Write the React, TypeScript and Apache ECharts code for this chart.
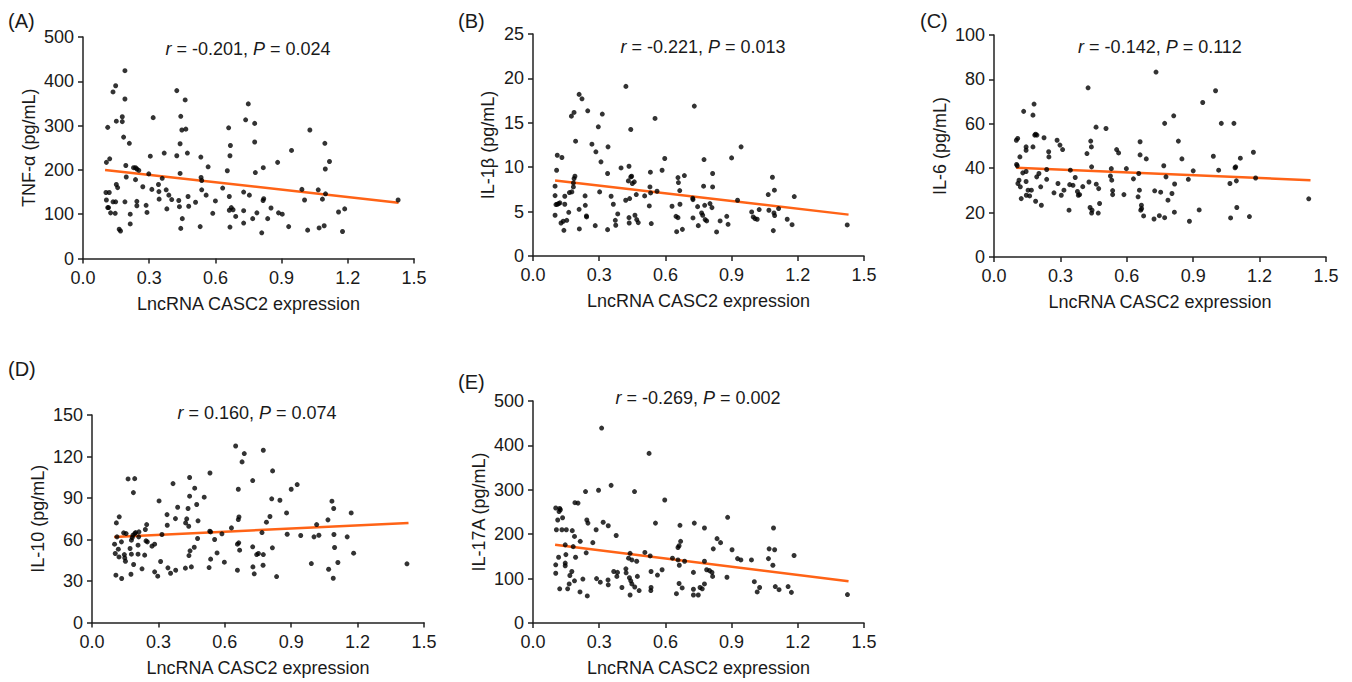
import React, { useEffect, useRef } from "react";
import * as echarts from "echarts";

// ---------- DATA ----------
const xTicks = [0, 0.3, 0.6, 0.9, 1.2, 1.5];
const xAxisName = "LncRNA CASC2 expression";

const tnfPoints = [[0.106,217],[0.112,296],[0.121,225],[0.104,149],[0.119,149],[0.106,132],[0.112,115],[0.116,115],[0.125,103],[0.136,128],[0.148,128],[0.146,102],[0.136,376],[0.148,390],[0.151,310],[0.151,167],[0.157,160],[0.164,66],[0.170,62],[0.178,320],[0.178,309],[0.184,274],[0.190,424],[0.190,360],[0.190,128],[0.194,210],[0.196,184],[0.210,260],[0.214,100],[0.214,78],[0.229,205],[0.238,205],[0.244,202],[0.253,199],[0.238,178],[0.244,129],[0.244,119],[0.271,162],[0.286,120],[0.290,104],[0.298,191],[0.305,231],[0.312,156],[0.318,318],[0.342,167],[0.344,151],[0.345,134],[0.359,181],[0.368,238],[0.377,155],[0.380,112],[0.389,143],[0.402,133],[0.425,379],[0.425,232],[0.434,131],[0.437,117],[0.440,192],[0.440,259],[0.443,68],[0.443,321],[0.448,290],[0.450,90],[0.463,358],[0.466,292],[0.473,238],[0.476,140],[0.479,118],[0.510,127],[0.531,72],[0.534,229],[0.535,183],[0.538,176],[0.538,155],[0.558,143],[0.567,207],[0.588,102],[0.600,130],[0.633,159],[0.654,198],[0.660,295],[0.663,109],[0.663,140],[0.666,232],[0.668,255],[0.666,71],[0.672,115],[0.680,110],[0.692,95],[0.728,150],[0.728,108],[0.728,80],[0.737,313],[0.749,349],[0.754,143],[0.769,90],[0.778,305],[0.778,263],[0.781,194],[0.788,103],[0.810,58],[0.816,131],[0.819,135],[0.817,205],[0.837,90],[0.852,114],[0.882,217],[0.886,103],[0.903,100],[0.932,72],[0.945,244],[0.992,156],[1.004,132],[1.018,64],[1.028,290],[1.066,155],[1.070,69],[1.085,134],[1.093,74],[1.096,260],[1.098,202],[1.099,146],[1.117,219],[1.158,105],[1.176,61],[1.186,112],[1.428,132]];

const il1bPoints = [[0.100,7.86],[0.107,9.66],[0.110,11.35],[0.131,11.09],[0.100,6.8],[0.104,5.79],[0.110,5.83],[0.116,5.9],[0.122,5.98],[0.100,4.59],[0.127,3.72],[0.137,3.91],[0.153,4.02],[0.140,2.89],[0.144,6.73],[0.144,5.83],[0.162,4.92],[0.165,7.14],[0.176,7.22],[0.183,7.78],[0.183,8.23],[0.186,8.72],[0.190,8.98],[0.174,15.75],[0.186,16.17],[0.193,12.93],[0.209,18.2],[0.222,17.7],[0.209,5.26],[0.210,3.05],[0.236,6.77],[0.237,5.71],[0.242,4.51],[0.243,4.4],[0.248,16.35],[0.267,12.59],[0.282,3.42],[0.285,11.73],[0.296,14.55],[0.302,7.22],[0.308,10.6],[0.314,15.98],[0.338,2.97],[0.340,12.29],[0.338,9.29],[0.354,6.73],[0.364,5.83],[0.373,4.02],[0.375,3.46],[0.384,4.74],[0.399,9.92],[0.420,6.28],[0.421,19.1],[0.432,8.46],[0.435,10.11],[0.435,4.32],[0.436,3.72],[0.438,6.47],[0.443,14.25],[0.443,8.91],[0.447,8.98],[0.450,8.16],[0.459,8.35],[0.462,4.59],[0.470,4.1],[0.477,3.76],[0.468,6.92],[0.506,6.77],[0.527,5.64],[0.530,7.78],[0.532,9.44],[0.533,7.1],[0.536,3.65],[0.553,15.49],[0.562,7.29],[0.585,9.66],[0.597,10.98],[0.630,5.6],[0.648,4.47],[0.657,4.32],[0.651,2.74],[0.657,8.83],[0.659,8.27],[0.665,7.37],[0.666,5.83],[0.677,3.0],[0.686,9.06],[0.724,6.5],[0.725,6.35],[0.731,16.88],[0.725,4.29],[0.746,5.56],[0.749,3.42],[0.764,4.85],[0.769,4.59],[0.773,7.86],[0.775,10.86],[0.778,5.71],[0.780,4.1],[0.787,3.95],[0.802,5.9],[0.814,9.29],[0.814,7.78],[0.811,5.45],[0.832,2.71],[0.848,3.95],[0.878,4.47],[0.884,3.57],[0.900,11.05],[0.927,6.28],[0.943,12.29],[0.991,4.96],[0.998,4.4],[1.006,4.21],[1.016,4.14],[1.025,5.23],[1.066,6.92],[1.069,5.15],[1.085,8.87],[1.094,7.41],[1.092,4.85],[1.095,4.55],[1.089,2.86],[1.113,5.34],[1.152,4.14],[1.174,3.53],[1.184,6.69],[1.424,3.5]];

const il6Points = [[0.101,52.6],[0.107,53.4],[0.117,45.1],[0.102,41.7],[0.105,41.1],[0.108,33.1],[0.113,34.6],[0.119,31.6],[0.123,26.3],[0.130,37.9],[0.134,65.6],[0.145,49.6],[0.145,48.1],[0.145,38.5],[0.145,34.0],[0.146,27.8],[0.154,30.1],[0.161,27.5],[0.169,30.1],[0.176,49.6],[0.176,63.9],[0.181,68.9],[0.184,54.9],[0.188,55.3],[0.194,54.9],[0.188,25.1],[0.193,36.1],[0.203,37.6],[0.211,31.6],[0.214,23.3],[0.226,53.7],[0.238,39.4],[0.238,35.0],[0.247,47.4],[0.248,45.1],[0.271,28.9],[0.285,52.6],[0.289,33.1],[0.298,50.4],[0.304,27.8],[0.310,48.4],[0.316,30.1],[0.339,21.1],[0.345,39.1],[0.342,32.6],[0.357,32.3],[0.367,35.8],[0.377,29.5],[0.381,27.8],[0.387,28.1],[0.401,31.7],[0.420,46.6],[0.425,76.2],[0.429,33.8],[0.434,22.3],[0.437,52.2],[0.440,49.6],[0.441,40.6],[0.443,21.1],[0.441,19.8],[0.461,58.5],[0.462,32.8],[0.471,19.8],[0.473,30.8],[0.477,24.1],[0.506,57.9],[0.526,36.5],[0.530,39.8],[0.532,34.6],[0.536,29.9],[0.536,28.1],[0.554,48.4],[0.563,46.9],[0.587,28.1],[0.598,39.8],[0.630,35.2],[0.651,27.1],[0.654,37.6],[0.657,30.1],[0.660,51.9],[0.660,46.0],[0.666,23.3],[0.667,21.8],[0.663,21.1],[0.676,18.5],[0.688,44.2],[0.723,17.1],[0.726,29.8],[0.747,18.6],[0.732,83.3],[0.753,29.2],[0.767,41.1],[0.771,60.2],[0.771,17.7],[0.777,36.1],[0.786,25.6],[0.804,28.6],[0.812,63.6],[0.816,32.9],[0.815,20.2],[0.833,52.2],[0.849,44.2],[0.878,35.0],[0.883,16.1],[0.900,38.8],[0.927,21.2],[0.943,69.6],[0.991,45.4],[1.001,74.9],[1.015,39.1],[1.027,60.2],[1.066,33.1],[1.069,17.6],[1.084,60.2],[1.089,40.2],[1.092,40.6],[1.095,34.3],[1.097,22.3],[1.113,44.5],[1.154,18.2],[1.172,47.2],[1.182,35.6],[1.422,26.2]];

const il10Points = [[0.110,72.0],[0.113,61.9],[0.102,56.6],[0.105,49.9],[0.119,53.0],[0.122,47.4],[0.108,34.2],[0.123,76.4],[0.133,58.3],[0.134,31.8],[0.143,64.8],[0.146,49.1],[0.148,46.7],[0.151,44.3],[0.154,64.3],[0.163,103.8],[0.172,53.5],[0.178,59.5],[0.178,49.4],[0.176,34.9],[0.182,61.4],[0.185,63.1],[0.187,93.9],[0.188,41.9],[0.193,104.0],[0.193,64.3],[0.197,65.0],[0.208,55.9],[0.211,61.9],[0.212,65.5],[0.208,49.4],[0.226,38.8],[0.238,48.7],[0.241,67.2],[0.244,59.0],[0.247,70.8],[0.250,58.3],[0.271,55.2],[0.283,56.6],[0.283,36.6],[0.297,33.5],[0.303,87.9],[0.310,44.1],[0.316,63.6],[0.339,78.0],[0.340,70.3],[0.343,39.5],[0.355,35.6],[0.366,100.4],[0.378,37.8],[0.377,75.1],[0.387,83.3],[0.422,39.3],[0.423,72.0],[0.428,74.9],[0.434,82.4],[0.437,69.6],[0.441,91.3],[0.441,104.8],[0.438,48.4],[0.443,51.8],[0.449,40.2],[0.462,54.4],[0.464,97.1],[0.473,85.3],[0.477,60.7],[0.479,73.5],[0.507,90.6],[0.529,39.7],[0.532,66.0],[0.533,108.1],[0.536,45.8],[0.536,65.5],[0.554,60.0],[0.565,50.3],[0.587,64.1],[0.598,43.6],[0.630,68.4],[0.649,127.6],[0.657,37.8],[0.657,56.6],[0.661,96.3],[0.661,74.4],[0.663,57.6],[0.664,76.3],[0.667,52.3],[0.678,116.1],[0.688,122.1],[0.726,102.6],[0.726,54.7],[0.727,40.2],[0.733,35.2],[0.744,49.1],[0.752,49.9],[0.768,65.0],[0.774,124.5],[0.773,41.4],[0.774,49.1],[0.788,72.5],[0.804,76.6],[0.812,89.4],[0.816,109.6],[0.815,54.0],[0.834,33.2],[0.849,88.4],[0.879,79.2],[0.882,63.8],[0.900,96.3],[0.927,99.7],[0.943,62.9],[0.991,42.6],[1.003,61.9],[1.015,70.8],[1.025,63.1],[1.066,74.2],[1.069,38.5],[1.084,87.7],[1.092,82.4],[1.093,63.6],[1.096,54.2],[1.090,32.0],[1.111,43.4],[1.153,61.9],[1.171,79.2],[1.182,50.1],[1.423,42.4]];

const il17aPoints = [[0.103,259],[0.121,258],[0.118,251],[0.124,255],[0.134,237],[0.106,210],[0.112,232],[0.131,210],[0.151,210],[0.103,131],[0.103,112],[0.116,148],[0.146,176],[0.149,154],[0.146,135],[0.146,129],[0.121,77],[0.157,77],[0.178,208],[0.188,195],[0.182,172],[0.193,148],[0.176,116],[0.167,107],[0.164,88],[0.188,95],[0.190,271],[0.204,270],[0.214,184],[0.213,70],[0.226,99],[0.238,296],[0.241,158],[0.244,232],[0.249,225],[0.246,61],[0.271,181],[0.286,210],[0.288,100],[0.297,299],[0.305,92],[0.311,439],[0.318,227],[0.341,219],[0.340,97],[0.341,86],[0.354,310],[0.366,116],[0.377,197],[0.383,114],[0.380,105],[0.403,80],[0.421,122],[0.422,113],[0.433,146],[0.440,157],[0.437,102],[0.440,63],[0.443,95],[0.448,88],[0.448,142],[0.460,296],[0.461,81],[0.470,139],[0.473,105],[0.481,73],[0.507,159],[0.531,151],[0.526,382],[0.535,116],[0.535,80],[0.534,73],[0.555,225],[0.564,108],[0.585,120],[0.597,277],[0.632,146],[0.650,66],[0.657,142],[0.657,170],[0.662,174],[0.663,130],[0.662,89],[0.666,220],[0.669,184],[0.676,79],[0.687,139],[0.727,114],[0.727,76],[0.727,63],[0.731,225],[0.749,63],[0.757,80],[0.767,77],[0.777,88],[0.777,214],[0.777,139],[0.787,120],[0.800,118],[0.811,114],[0.814,105],[0.817,167],[0.834,190],[0.850,181],[0.879,103],[0.882,238],[0.902,165],[0.927,145],[0.942,142],[0.990,142],[1.003,93],[1.016,70],[1.027,80],[1.067,145],[1.070,167],[1.087,130],[1.090,214],[1.095,165],[1.098,82],[1.115,75],[1.156,82],[1.171,69],[1.183,152],[1.425,64]];

// regression line end points
const tnfFit = [[0.1, 200], [1.43, 126]];
const il1bFit = [[0.1, 8.5], [1.43, 4.66]];
const il6Fit = [[0.1, 40.2], [1.43, 34.6]];
const il10Fit = [[0.1, 61.8], [1.43, 72.0]];
const il17aFit = [[0.1, 176], [1.43, 94]];

const panelLetters = ["(A)", "(B)", "(C)", "(D)", "(E)"];
const yNames = ["TNF-α (pg/mL)", "IL-1β (pg/mL)", "IL-6 (pg/mL)", "IL-10 (pg/mL)", "IL-17A (pg/mL)"];
const yMaxes = [500, 25, 100, 150, 500];
const yIntervals = [100, 5, 20, 30, 100];
const rValues = ["-0.201", "-0.221", "-0.142", "0.160", "-0.269"];
const pValues = ["0.024", "0.013", "0.112", "0.074", "0.002"];

const pointSets = [tnfPoints, il1bPoints, il6Points, il10Points, il17aPoints];
const fitSets = [tnfFit, il1bFit, il6Fit, il10Fit, il17aFit];

// ---------- LAYOUT ----------
const grids = [
  { left: 83, top: 37, width: 331, height: 221.5 },
  { left: 533, top: 34, width: 331, height: 222 },
  { left: 994, top: 35, width: 332, height: 222 },
  { left: 92, top: 415, width: 332, height: 207.5 },
  { left: 533, top: 401, width: 331, height: 222 },
];
const yNameGaps = [45, 36, 45, 45, 45];
const annotPos = [[248, 49], [703, 47], [1160, 47], [257, 413], [698, 398]];
const letterPos = [[8, 21], [458, 21], [920, 21], [8, 369], [458, 382]];

const FONT = "'Liberation Sans', Arial, Helvetica, sans-serif";
const TEXT = "#1a1a1a";
const AXIS = "#222";
const ORANGE = "#FF6316";

export default function App() {
  const ref = useRef<HTMLDivElement>(null);

  useEffect(() => {
    if (!ref.current) return;
    const chart = echarts.init(ref.current, undefined, { renderer: "svg" });

    const xAxis = grids.map((_, i) => ({
      type: "value",
      gridIndex: i,
      min: xTicks[0],
      max: xTicks[xTicks.length - 1],
      interval: xTicks[1] - xTicks[0],
      name: xAxisName,
      nameLocation: "middle",
      nameGap: 36,
      nameTextStyle: { fontSize: 18, color: TEXT, fontFamily: FONT },
      axisLine: { show: true, lineStyle: { color: AXIS, width: 1.5 } },
      axisTick: { show: true, length: 5, lineStyle: { color: AXIS, width: 1.5 } },
      axisLabel: {
        fontSize: 18,
        color: TEXT,
        fontFamily: FONT,
        margin: 10,
        formatter: (v: number) => v.toFixed(1),
      },
      splitLine: { show: false },
    }));

    const yAxis = grids.map((_, i) => ({
      type: "value",
      gridIndex: i,
      min: 0,
      max: yMaxes[i],
      interval: yIntervals[i],
      name: yNames[i],
      nameLocation: "middle",
      nameGap: yNameGaps[i],
      nameTextStyle: { fontSize: 18, color: TEXT, fontFamily: FONT },
      axisLine: { show: true, lineStyle: { color: AXIS, width: 1.5 } },
      axisTick: { show: true, length: 5, lineStyle: { color: AXIS, width: 1.5 } },
      axisLabel: { fontSize: 18, color: TEXT, fontFamily: FONT, margin: 9 },
      splitLine: { show: false },
    }));

    const series: any[] = [];
    grids.forEach((_, i) => {
      series.push({
        type: "line",
        xAxisIndex: i,
        yAxisIndex: i,
        data: fitSets[i],
        symbol: "none",
        lineStyle: { color: ORANGE, width: 2.5 },
        z: 2,
      });
      series.push({
        type: "scatter",
        xAxisIndex: i,
        yAxisIndex: i,
        data: pointSets[i],
        symbolSize: 5,
        itemStyle: { color: "#000" },
        z: 3,
      });
    });

    const graphic: any[] = [];
    grids.forEach((_, i) => {
      graphic.push({
        type: "text",
        x: annotPos[i][0],
        y: annotPos[i][1],
        style: {
          text: `{i|r}{n| = ${rValues[i]}, }{i|P}{n| = ${pValues[i]}}`,
          align: "center",
          verticalAlign: "middle",
          textAlign: "center",
          textVerticalAlign: "middle",
          rich: {
            i: { fontStyle: "italic", fontSize: 18, fontFamily: FONT, fill: TEXT, color: TEXT },
            n: { fontSize: 18, fontFamily: FONT, fill: TEXT, color: TEXT },
          },
        },
      });
      graphic.push({
        type: "text",
        x: letterPos[i][0],
        y: letterPos[i][1],
        style: {
          text: panelLetters[i],
          font: `20px ${FONT}`,
          fill: TEXT,
          align: "left",
          verticalAlign: "middle",
          textAlign: "left",
          textVerticalAlign: "middle",
        },
      });
    });

    chart.setOption({
      animation: false,
      backgroundColor: "#fff",
      grid: grids,
      xAxis,
      yAxis,
      series,
      graphic,
    });

    return () => chart.dispose();
  }, []);

  return (
    <div
      ref={ref}
      style={{ position: "fixed", left: 0, top: 0, width: 1352, height: 682, background: "#fff" }}
    />
  );
}
